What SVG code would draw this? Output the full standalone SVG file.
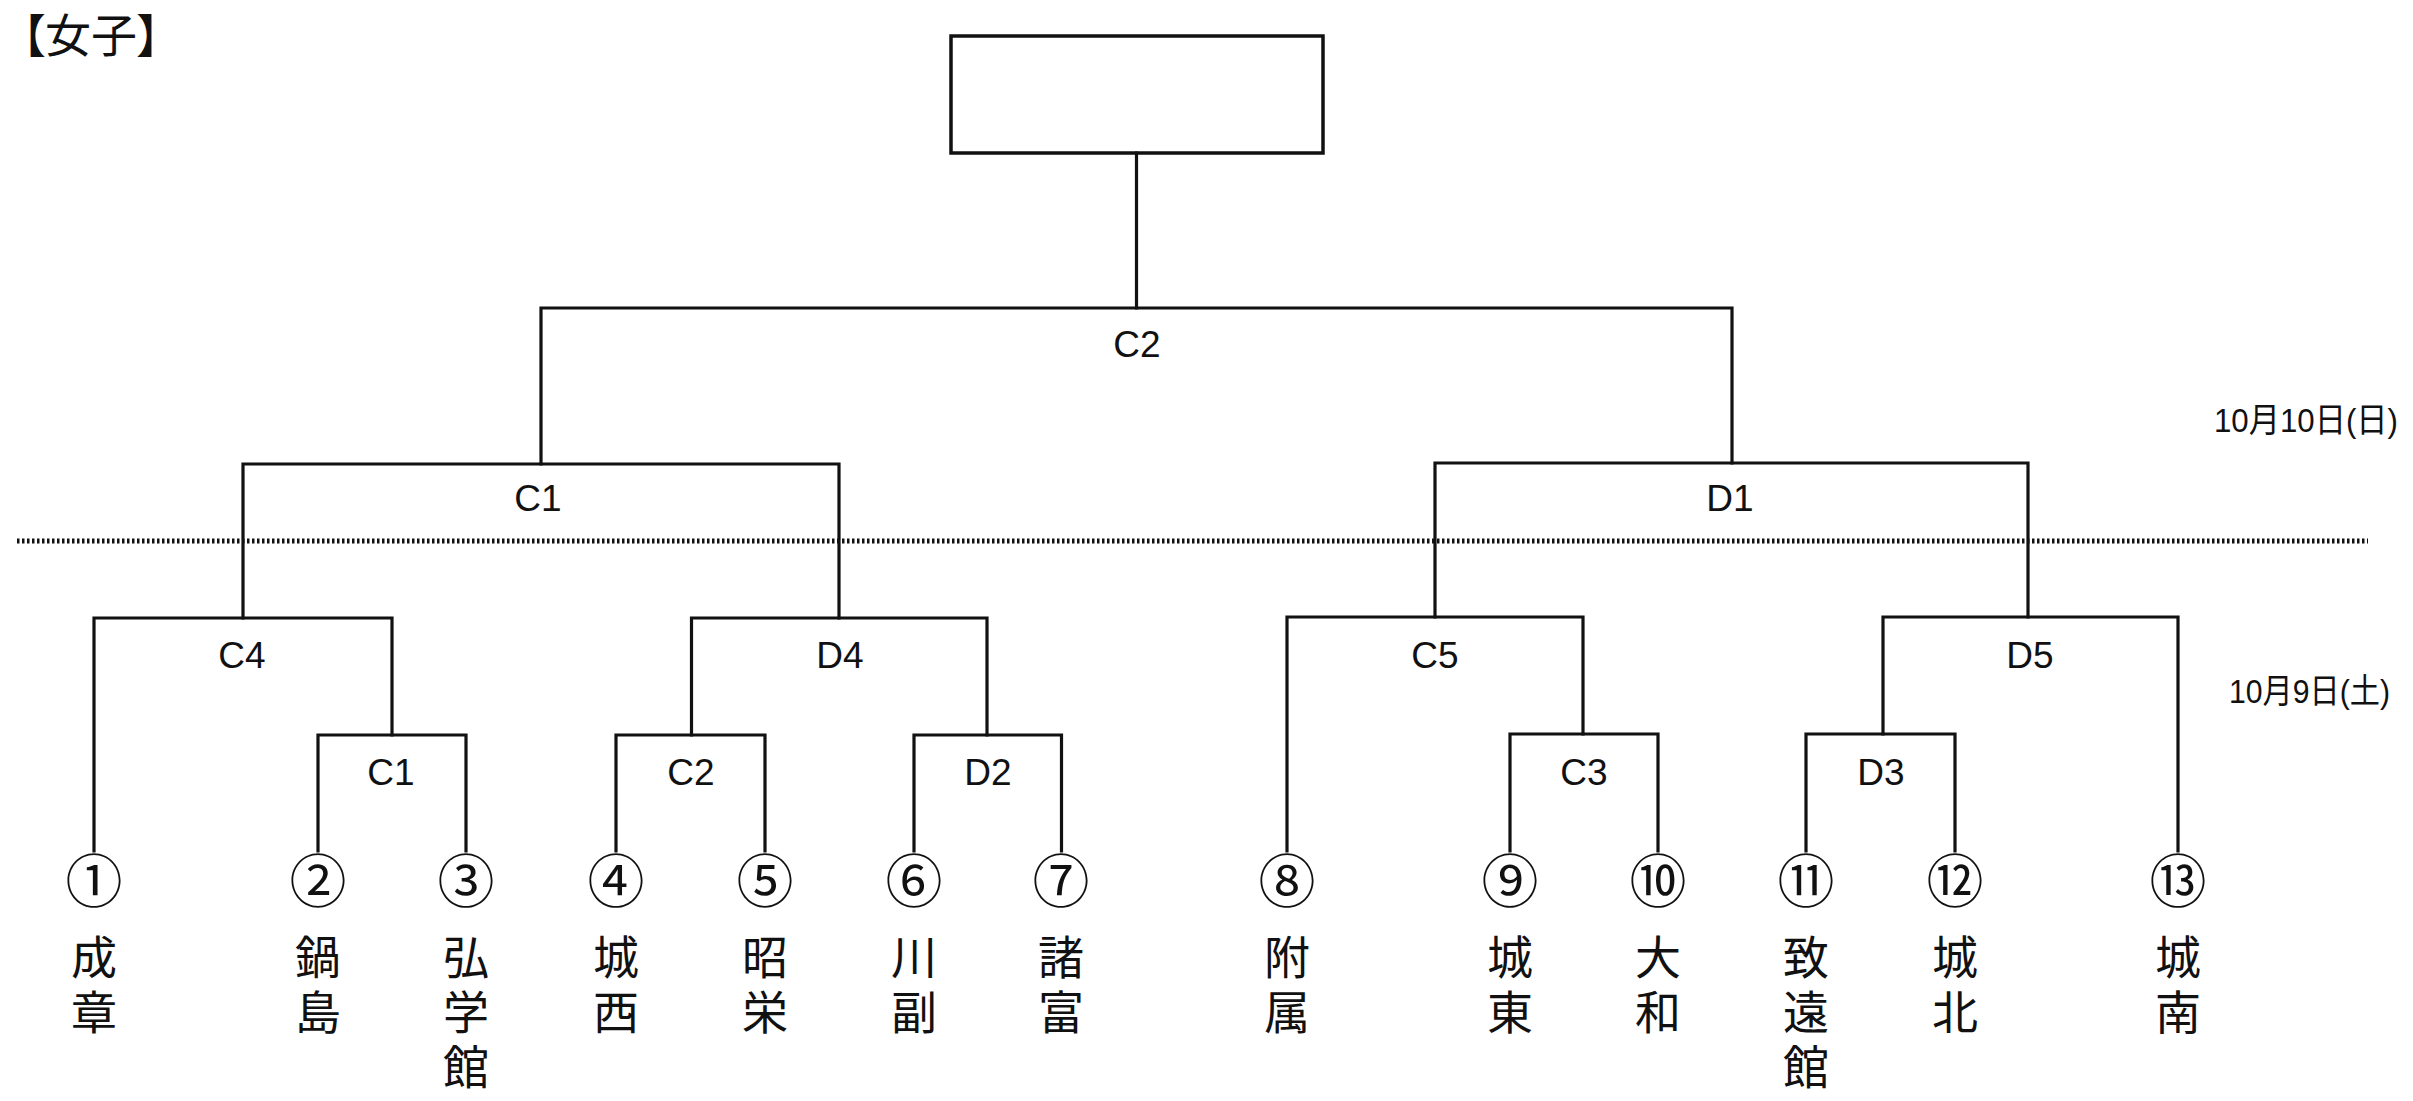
<svg xmlns="http://www.w3.org/2000/svg" width="2413" height="1101" viewBox="0 0 2413 1101">
<style>
.ln{fill:none;stroke:#111;stroke-width:3.2;stroke-linejoin:miter;stroke-linecap:square}
.lbl{font-family:"Liberation Sans","Noto Sans CJK JP",sans-serif;font-size:37px;fill:#111;text-anchor:middle}
.num{font-family:"Noto Sans CJK JP","DejaVu Sans",sans-serif;font-size:57px;fill:#111;text-anchor:middle}
.nm{font-family:"Noto Sans CJK JP",sans-serif;font-size:46px;fill:#111;writing-mode:vertical-rl;text-orientation:upright;letter-spacing:9px}
.date{font-family:"Liberation Sans","Noto Sans CJK JP",sans-serif;font-size:34px;fill:#111}
.ttl{font-family:"Noto Sans CJK JP",sans-serif;font-size:46px;fill:#111;font-feature-settings:"palt"}
</style>
<rect width="2413" height="1101" fill="#fff"/>
<g id="title"><text class="ttl" x="22" y="52">【女子】</text></g>
<g id="dates">
<text class="date" x="2214" y="432" textLength="184" lengthAdjust="spacingAndGlyphs">10月10日(日)</text>
<text class="date" x="2229" y="703" textLength="161" lengthAdjust="spacingAndGlyphs">10月9日(土)</text>
</g>
<g id="divider"><line x1="17" y1="541" x2="2368" y2="541" stroke="#111" stroke-width="5" stroke-dasharray="2.5 2.5"/></g>
<g id="connectors" class="ln">
<path d="M1136.5 153V308"/>
<path d="M541 464V308H1732V463"/>
<path d="M243 618V464H839V618"/>
<path d="M94 851V618H392V735"/>
<path d="M318 851V735H466V851"/>
<path d="M691.5 735V618H987V735"/>
<path d="M616 851V735H765V851"/>
<path d="M914 851V735H1061.5V851"/>
<path d="M1435 617V463H2028V617"/>
<path d="M1287 851V617H1583V734"/>
<path d="M1510 851V734H1658V851"/>
<path d="M1883 734V617H2178V851"/>
<path d="M1806 851V734H1955V851"/>
</g>
<g id="final"><rect x="951" y="36" width="372" height="117" fill="none" stroke="#111" stroke-width="3.5"/></g>
<g id="matches">
<g id="m-C2-final"><text class="lbl" x="1137" y="357">C2</text></g>
<g id="m-C1-semi"><text class="lbl" x="538" y="511">C1</text></g>
<g id="m-D1"><text class="lbl" x="1730" y="511">D1</text></g>
<g id="m-C4"><text class="lbl" x="242" y="668">C4</text></g>
<g id="m-D4"><text class="lbl" x="840" y="668">D4</text></g>
<g id="m-C5"><text class="lbl" x="1435" y="668">C5</text></g>
<g id="m-D5"><text class="lbl" x="2030" y="668">D5</text></g>
<g id="m-C1"><text class="lbl" x="391" y="785">C1</text></g>
<g id="m-C2"><text class="lbl" x="691" y="785">C2</text></g>
<g id="m-D2"><text class="lbl" x="988" y="785">D2</text></g>
<g id="m-C3"><text class="lbl" x="1584" y="785">C3</text></g>
<g id="m-D3"><text class="lbl" x="1881" y="785">D3</text></g>
</g>
<g id="teams">
<g id="t1"><text class="num" x="94" y="902">①</text><text class="nm" x="94" y="934">成章</text></g>
<g id="t2"><text class="num" x="318" y="902">②</text><text class="nm" x="318" y="934">鍋島</text></g>
<g id="t3"><text class="num" x="466" y="902">③</text><text class="nm" x="466" y="934">弘学館</text></g>
<g id="t4"><text class="num" x="616" y="902">④</text><text class="nm" x="616" y="934">城西</text></g>
<g id="t5"><text class="num" x="765" y="902">⑤</text><text class="nm" x="765" y="934">昭栄</text></g>
<g id="t6"><text class="num" x="914" y="902">⑥</text><text class="nm" x="914" y="934">川副</text></g>
<g id="t7"><text class="num" x="1061" y="902">⑦</text><text class="nm" x="1061" y="934">諸富</text></g>
<g id="t8"><text class="num" x="1287" y="902">⑧</text><text class="nm" x="1287" y="934">附属</text></g>
<g id="t9"><text class="num" x="1510" y="902">⑨</text><text class="nm" x="1510" y="934">城東</text></g>
<g id="t10"><text class="num" x="1658" y="902">⑩</text><text class="nm" x="1658" y="934">大和</text></g>
<g id="t11"><text class="num" x="1806" y="902">⑪</text><text class="nm" x="1806" y="934">致遠館</text></g>
<g id="t12"><text class="num" x="1955" y="902">⑫</text><text class="nm" x="1955" y="934">城北</text></g>
<g id="t13"><text class="num" x="2178" y="902">⑬</text><text class="nm" x="2178" y="934">城南</text></g>
</g>
</svg>
